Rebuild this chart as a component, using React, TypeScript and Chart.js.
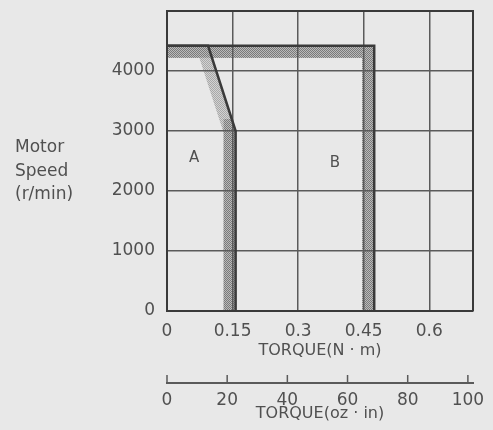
import React, { useEffect, useRef } from "react";
import { Chart, registerables } from "chart.js";

Chart.register(...registerables);

// ---- data ----
const torqueTicksNm = [0, 0.15, 0.3, 0.45, 0.6];
const torqueTicksOzIn = [0, 20, 40, 60, 80, 100];
const speedTicks = [0, 1000, 2000, 3000, 4000];
const torqueRangeNm = [0, 0.7];
const torqueRangeOzIn = [0, 101.7];
const speedRange = [0, 5000];

const curveATorque = [0, 0.094, 0.157, 0.157];
const curveASpeed = [4420, 4420, 3000, 0];
const curveBTorque = [0, 0.474, 0.474];
const curveBSpeed = [4420, 4420, 0];

const regionNames = ["A", "B"];
const regionTorque = [0.062, 0.384];
const regionSpeed = [2540, 2470];

const speedTitleLines = ["Motor", "Speed", "(r/min)"];
const xTitleNm = "TORQUE(N · m)";
const xTitleOzIn = "TORQUE(oz · in)";

const FONT = "'DejaVu Sans', sans-serif";
const TEXT = "#505050";
const LINE = "#3a3a3a";
const GRID = "#5a5a5a";

function makePattern(dark: string, light: string) {
  const c = document.createElement("canvas");
  c.width = 4;
  c.height = 4;
  const g = c.getContext("2d")!;
  g.fillStyle = light;
  g.fillRect(0, 0, 4, 4);
  g.fillStyle = dark;
  for (let y = 0; y < 4; y++) for (let x = 0; x < 4; x++) if ((x + y) % 2 === 0) g.fillRect(x, y, 1, 1);
  return g.createPattern(c, "repeat")!;
}

const noPad = (s: any) => {
  s.paddingTop = 0;
  s.paddingBottom = 0;
  s.paddingLeft = 0;
  s.paddingRight = 0;
};

export default function App() {
  const ref = useRef<HTMLCanvasElement>(null);

  useEffect(() => {
    const canvas = ref.current!;
    const bandPattern = makePattern("#7a7a7a", "#bababa");
    const lightPattern = makePattern("#a8a8a8", "#d2d2d2");

    const bandPlugin = {
      id: "bands",
      beforeDraw(chart: any) {
        const { ctx } = chart;
        const xs = chart.scales.x;
        const ys = chart.scales.y;
        const left = xs.getPixelForValue(0);
        const bottom = ys.getPixelForValue(0);
        const band = (tx: number[], sp: number[], axisOnly: boolean) => {
          const pts = tx.map((t, i) => [xs.getPixelForValue(t), ys.getPixelForValue(sp[i])]);
          ctx.save();
          ctx.beginPath();
          pts.forEach((p, i) => (i ? ctx.lineTo(p[0], p[1]) : ctx.moveTo(p[0], p[1])));
          ctx.lineTo(left, bottom);
          ctx.closePath();
          ctx.clip();
          ctx.beginPath();
          pts.forEach((p, i) => (i ? ctx.lineTo(p[0], p[1]) : ctx.moveTo(p[0], p[1])));
          ctx.lineWidth = 24;
          ctx.lineJoin = "miter";
          ctx.strokeStyle = axisOnly ? bandPattern : lightPattern;
          ctx.stroke();
          ctx.strokeStyle = bandPattern;
          ctx.lineCap = "square";
          for (let i = 1; i < pts.length; i++) {
            const a = pts[i - 1];
            const b = pts[i];
            if (Math.abs(a[0] - b[0]) < 0.5 || Math.abs(a[1] - b[1]) < 0.5) {
              ctx.beginPath();
              ctx.moveTo(a[0], a[1]);
              ctx.lineTo(b[0], b[1]);
              ctx.stroke();
            }
          }
          ctx.restore();
        };
        band(curveBTorque, curveBSpeed, true);
        band(curveATorque, curveASpeed, false);
      },
    };

    const decoPlugin = {
      id: "deco",
      afterDraw(chart: any) {
        const { ctx, chartArea } = chart;
        const xs = chart.scales.x;
        const ys = chart.scales.y;
        const x2 = chart.scales.x2;
        ctx.save();
        ctx.strokeStyle = LINE;
        ctx.lineWidth = 2;
        ctx.beginPath();
        ctx.moveTo(chartArea.left, chartArea.top);
        ctx.lineTo(chartArea.right, chartArea.top);
        ctx.lineTo(chartArea.right, chartArea.bottom);
        ctx.stroke();
        ctx.strokeStyle = GRID;
        ctx.lineWidth = 1.5;
        torqueTicksOzIn.forEach((t) => {
          const px = x2.getPixelForValue(t);
          ctx.beginPath();
          ctx.moveTo(px, x2.top);
          ctx.lineTo(px, x2.top - 8);
          ctx.stroke();
        });
        ctx.fillStyle = TEXT;
        ctx.font = `15px ${FONT}`;
        ctx.textAlign = "center";
        ctx.textBaseline = "middle";
        regionNames.forEach((n, i) => {
          ctx.fillText(n, xs.getPixelForValue(regionTorque[i]), ys.getPixelForValue(regionSpeed[i]));
        });
        ctx.font = `17px ${FONT}`;
        ctx.textAlign = "left";
        speedTitleLines.forEach((l, i) => {
          ctx.fillText(l, 15, 148 + i * 23.5);
        });
        ctx.restore();
      },
    };

    const tickFont = { family: FONT, size: 17 };
    const titleFont = { family: FONT, size: 16 };

    const chart = new Chart(canvas, {
      type: "scatter",
      data: {
        datasets: [
          {
            label: "A",
            data: curveATorque.map((t, i) => ({ x: t, y: curveASpeed[i] })),
            showLine: true,
            borderColor: LINE,
            borderWidth: 2.5,
            pointRadius: 0,
            xAxisID: "x",
            yAxisID: "y",
          },
          {
            label: "B",
            data: curveBTorque.map((t, i) => ({ x: t, y: curveBSpeed[i] })),
            showLine: true,
            borderColor: LINE,
            borderWidth: 2.5,
            pointRadius: 0,
            xAxisID: "x",
            yAxisID: "y",
          },
        ],
      },
      options: {
        animation: false,
        responsive: false,
        events: [],
        layout: { padding: { top: 11, right: 20, bottom: 0, left: 0 } },
        plugins: { legend: { display: false }, tooltip: { enabled: false } },
        scales: {
          x: {
            type: "linear",
            position: "bottom",
            weight: 0,
            min: torqueRangeNm[0],
            max: torqueRangeNm[1],
            afterBuildTicks: (s: any) => {
              s.ticks = torqueTicksNm.map((v) => ({ value: v }));
            },
            afterFit: (s: any) => {
              s.height = 72;
              noPad(s);
            },
            grid: { color: GRID, lineWidth: 1.5, drawTicks: false },
            border: { color: LINE, width: 2 },
            ticks: { padding: 10, color: TEXT, font: tickFont, callback: (v: any) => String(v) },
            title: { display: true, text: xTitleNm, color: TEXT, font: titleFont, padding: { top: 0, bottom: 23 } },
          },
          x2: {
            type: "linear",
            position: "bottom",
            weight: 1,
            min: torqueRangeOzIn[0],
            max: torqueRangeOzIn[1],
            afterBuildTicks: (s: any) => {
              s.ticks = torqueTicksOzIn.map((v) => ({ value: v }));
            },
            afterFit: (s: any) => {
              s.height = 47;
              noPad(s);
            },
            grid: { drawOnChartArea: false, drawTicks: false },
            border: { color: GRID, width: 2 },
            ticks: { padding: 7, color: TEXT, font: tickFont, callback: (v: any) => String(v) },
            title: { display: true, text: xTitleOzIn, color: TEXT, font: titleFont, padding: { top: 0, bottom: 7 } },
          },
          y: {
            type: "linear",
            min: speedRange[0],
            max: speedRange[1],
            afterBuildTicks: (s: any) => {
              s.ticks = speedTicks.map((v) => ({ value: v }));
            },
            afterFit: (s: any) => {
              s.width = 167;
              noPad(s);
            },
            grid: { color: GRID, lineWidth: 1.5, drawTicks: false },
            border: { color: LINE, width: 2 },
            ticks: { padding: 12, color: TEXT, font: tickFont, callback: (v: any) => String(v) },
          },
        },
      },
      plugins: [bandPlugin, decoPlugin],
    } as any);

    return () => chart.destroy();
  }, []);

  return (
    <div
      style={{
        position: "absolute",
        left: 0,
        top: 0,
        width: 493,
        height: 430,
        background: "#e8e8e8",
        overflow: "hidden",
      }}
    >
      <canvas ref={ref} width={493} height={430} style={{ display: "block" }} />
    </div>
  );
}
